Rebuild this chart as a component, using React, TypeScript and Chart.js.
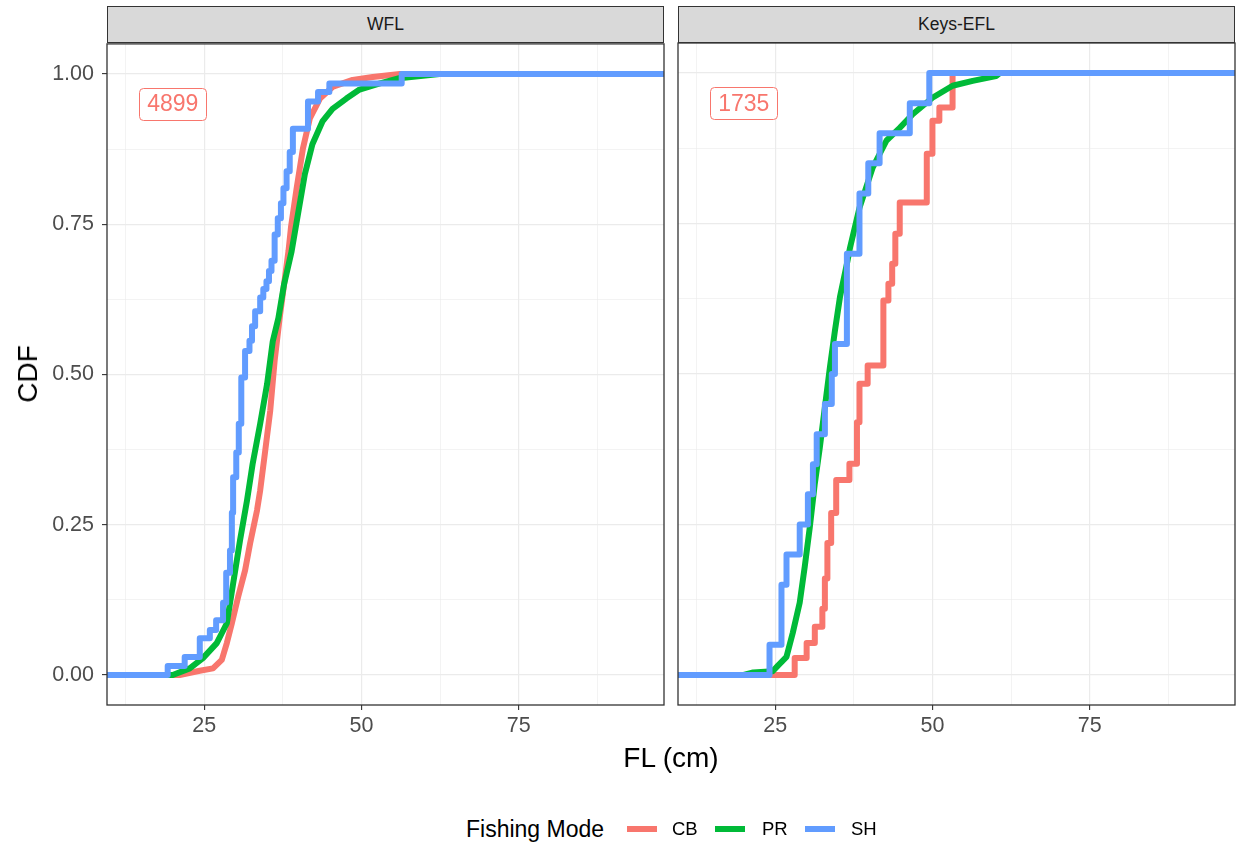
import React, { useEffect, useRef } from "react";
import { Chart, registerables } from "chart.js";
Chart.register(...registerables);

const FONT = '"Liberation Sans", Arial, Helvetica, sans-serif';

const panelNames = ["WFL", "Keys-EFL"];
const panelCounts = ["4899", "1735"];
const modeNames = ["CB", "PR", "SH"];
const modeColors = ["#F8766D", "#00BA38", "#619CFF"];

const X_MIN = 9.55;
const X_MAX = 98.1;
const Y_MIN = -0.05;
const Y_MAX = 1.05;
const xMajorTicks = [25, 50, 75];
const xMinorTicks = [12.5, 37.5, 62.5, 87.5];
const yMajorTicks = [0, 0.25, 0.5, 0.75, 1];
const yMinorTicks = [0.125, 0.375, 0.625, 0.875];
const yTickLabels = ["0.00", "0.25", "0.50", "0.75", "1.00"];
const countLabelFL = 20;
const countLabelCDF = 0.95;

// WFL panel
const wflCbFL = [21.1, 24.3, 26.4, 27.8, 28.6, 29.4, 30.4, 31.5, 32.3, 33.4, 33.9, 34.7, 35.5, 36.2, 37.0, 37.7, 38.4, 38.8, 39.7, 40.7, 41.8, 43.4, 45.5, 48.6, 51.8, 56.1];
const wflCbCDF = [0, 0.007, 0.011, 0.025, 0.053, 0.086, 0.13, 0.174, 0.219, 0.274, 0.307, 0.373, 0.44, 0.523, 0.594, 0.65, 0.705, 0.745, 0.81, 0.876, 0.926, 0.959, 0.979, 0.99, 0.995, 1.0];
const wflPrFL = [20.0, 22.7, 24.8, 27.0, 28.6, 29.6, 30.7, 31.8, 32.7, 33.9, 35.0, 35.9, 36.8, 37.7, 38.9, 39.9, 41.0, 42.2, 43.8, 45.4, 47.6, 49.7, 52.8, 56.0, 62.4];
const wflPrCDF = [0, 0.011, 0.028, 0.053, 0.086, 0.152, 0.224, 0.29, 0.351, 0.418, 0.484, 0.555, 0.594, 0.65, 0.705, 0.766, 0.833, 0.883, 0.921, 0.942, 0.959, 0.974, 0.984, 0.993, 1.0];
const wflShFL = [19.2, 21.9, 24.3, 25.9, 26.9, 28.0, 28.5, 29.1, 29.4, 29.6, 30.1, 30.5, 30.9, 31.5, 32.2, 32.6, 33.1, 33.9, 34.4, 34.9, 35.3, 35.7, 36.2, 36.7, 37.2, 37.6, 38.1, 38.6, 39.1, 41.5, 43.1, 44.9, 56.4];
const wflShCDF = [0.015, 0.03, 0.061, 0.075, 0.091, 0.12, 0.17, 0.207, 0.27, 0.329, 0.37, 0.418, 0.495, 0.539, 0.556, 0.58, 0.605, 0.628, 0.642, 0.655, 0.672, 0.689, 0.733, 0.76, 0.785, 0.81, 0.838, 0.87, 0.909, 0.954, 0.97, 0.984, 1.0];

// Keys-EFL panel
const keysCbFL = [28.1, 30.0, 31.3, 32.5, 32.9, 33.3, 33.9, 34.7, 36.8, 38.0, 38.4, 39.7, 42.2, 43.0, 43.6, 44.1, 44.8, 49.1, 50.0, 51.1, 53.2];
const keysCbCDF = [0.028, 0.053, 0.08, 0.11, 0.16, 0.219, 0.269, 0.324, 0.351, 0.42, 0.484, 0.514, 0.622, 0.65, 0.683, 0.733, 0.785, 0.866, 0.921, 0.943, 1.0];
const keysPrFL = [20.0, 21.5, 24.6, 25.4, 26.8, 27.8, 28.9, 29.7, 30.5, 31.3, 32.1, 32.9, 33.7, 34.5, 35.3, 36.4, 36.9, 38.4, 40.5, 42.7, 44.8, 46.9, 50.0, 53.2, 56.4, 60.1, 60.7];
const keysPrCDF = [0, 0.004, 0.006, 0.015, 0.03, 0.07, 0.12, 0.18, 0.245, 0.318, 0.378, 0.445, 0.511, 0.572, 0.628, 0.683, 0.71, 0.776, 0.843, 0.888, 0.909, 0.932, 0.959, 0.979, 0.987, 0.995, 1.0];
const keysShFL = [24.1, 26.0, 26.8, 28.9, 30.2, 31.0, 31.6, 32.9, 34.0, 34.5, 36.4, 38.4, 39.8, 41.6, 46.4, 49.5];
const keysShCDF = [0.05, 0.15, 0.2, 0.25, 0.3, 0.35, 0.4, 0.45, 0.5, 0.55, 0.7, 0.8, 0.85, 0.9, 0.95, 1.0];

const panelFL = [
  [wflCbFL, wflPrFL, wflShFL],
  [keysCbFL, keysPrFL, keysShFL],
];
const panelCDF = [
  [wflCbCDF, wflPrCDF, wflShCDF],
  [keysCbCDF, keysPrCDF, keysShCDF],
];
const panelStepped = [
  [false, false, true],
  [true, false, true],
];

function series(fl: number[], cdf: number[]) {
  return [
    { x: X_MIN, y: 0 },
    ...fl.map((v, i) => ({ x: v, y: cdf[i] })),
    { x: X_MAX, y: 1 },
  ];
}

const near = (a: number, arr: number[]) => arr.some((v) => Math.abs(v - a) < 1e-6);

const decoPlugin = {
  id: "panelDeco",
  afterDatasetsDraw(chart: any, _args: any, opts: any) {
    const { ctx, chartArea: a, scales } = chart;
    const cx = scales.x.getPixelForValue(countLabelFL);
    const cy = scales.y.getPixelForValue(countLabelCDF);
    ctx.save();
    ctx.font = `23px ${FONT}`;
    const tw = ctx.measureText(opts.text).width;
    const w = Math.round(tw + 16);
    const h = 32;
    const bx = Math.round(cx - w / 2) + 0.5;
    const by = Math.round(cy - h / 2) + 0.5;
    ctx.beginPath();
    ctx.roundRect(bx, by, w, h, 4);
    ctx.fillStyle = "#ffffff";
    ctx.fill();
    ctx.strokeStyle = "#F8766D";
    ctx.lineWidth = 1;
    ctx.stroke();
    ctx.fillStyle = "#F8766D";
    ctx.textAlign = "center";
    ctx.textBaseline = "middle";
    ctx.fillText(opts.text, cx, cy + 1);
    ctx.strokeStyle = "#333333";
    ctx.lineWidth = 1.3;
    ctx.strokeRect(a.left, a.top, a.right - a.left, a.bottom - a.top);
    ctx.restore();
  },
};

function makeChart(canvas: HTMLCanvasElement, p: number, yAxisWidth: number, padRight: number) {
  const datasets = modeNames.map((m, i) => ({
    label: m,
    data: series(panelFL[p][i], panelCDF[p][i]),
    borderColor: modeColors[i],
    backgroundColor: modeColors[i],
    borderWidth: 6,
    stepped: panelStepped[p][i] ? ("before" as const) : false,
    tension: 0,
    pointRadius: 0,
    fill: false,
    order: 2 - i,
    borderJoinStyle: "round" as const,
    borderCapStyle: "butt" as const,
  }));
  const showY = p === 0;
  return new Chart(canvas, {
    type: "line",
    data: { datasets },
    plugins: [decoPlugin],
    options: {
      animation: false,
      responsive: false,
      maintainAspectRatio: false,
      layout: { padding: { top: 20, right: padRight, left: 0, bottom: 0 } },
      plugins: {
        legend: { display: false },
        tooltip: { enabled: false },
        panelDeco: { text: panelCounts[p] },
      } as any,
      scales: {
        x: {
          type: "linear",
          min: X_MIN,
          max: X_MAX,
          afterBuildTicks: (s: any) => {
            s.ticks = [...xMinorTicks, ...xMajorTicks].sort((a, b) => a - b).map((v) => ({ value: v }));
          },
          afterFit: (s: any) => {
            s.height = 45;
          },
          border: { display: false },
          grid: {
            color: "#EBEBEB",
            lineWidth: (c: any) => (c.tick && near(c.tick.value, xMajorTicks) ? 1.2 : 0.6),
            tickColor: (c: any) => (c.tick && near(c.tick.value, xMajorTicks) ? "#333333" : "rgba(0,0,0,0)"),
            tickWidth: 1.1,
            tickLength: 5,
            drawTicks: true,
          },
          ticks: {
            autoSkip: false,
            maxRotation: 0,
            padding: 3,
            color: "#4D4D4D",
            font: { family: FONT, size: 21.5 },
            callback: (v: any) => (near(Number(v), xMajorTicks) ? String(v) : ""),
          },
        },
        y: {
          type: "linear",
          min: Y_MIN,
          max: Y_MAX,
          afterBuildTicks: (s: any) => {
            s.ticks = [...yMinorTicks, ...yMajorTicks].sort((a, b) => a - b).map((v) => ({ value: v }));
          },
          afterFit: (s: any) => {
            s.width = yAxisWidth;
          },
          border: { display: false },
          grid: {
            color: "#EBEBEB",
            lineWidth: (c: any) => (c.tick && near(c.tick.value, yMajorTicks) ? 1.2 : 0.6),
            tickColor: (c: any) =>
              showY && c.tick && near(c.tick.value, yMajorTicks) ? "#333333" : "rgba(0,0,0,0)",
            tickWidth: 1.1,
            tickLength: 5,
            drawTicks: showY,
          },
          ticks: {
            display: showY,
            autoSkip: false,
            padding: 8,
            color: "#4D4D4D",
            font: { family: FONT, size: 21.5 },
            callback: (v: any) => {
              const k = yMajorTicks.findIndex((t) => Math.abs(t - Number(v)) < 1e-6);
              return k >= 0 ? yTickLabels[k] : "";
            },
          },
        },
      },
    } as any,
  });
}

export default function App() {
  const c1 = useRef<HTMLCanvasElement>(null);
  const c2 = useRef<HTMLCanvasElement>(null);

  useEffect(() => {
    const ch1 = makeChart(c1.current!, 0, 107, 5);
    const ch2 = makeChart(c2.current!, 1, 18, 4);
    return () => {
      ch1.destroy();
      ch2.destroy();
    };
  }, []);

  const strip = (left: number, text: string) => (
    <div
      style={{
        position: "absolute",
        left,
        top: 6,
        width: 557,
        height: 37,
        boxSizing: "border-box",
        background: "#D9D9D9",
        border: "1.3px solid #333333",
        display: "flex",
        alignItems: "center",
        justifyContent: "center",
        fontSize: 17.5,
        color: "#1A1A1A",
      }}
    >
      {text}
    </div>
  );

  const legendKey = (left: number, color: string) => (
    <div style={{ position: "absolute", left, top: 826, width: 30, height: 6, background: color }} />
  );
  const legendText = (left: number, text: string, size: number) => (
    <div
      style={{
        position: "absolute",
        left,
        top: 829,
        transform: "translateY(-50%)",
        fontSize: size,
        lineHeight: 1,
        whiteSpace: "nowrap",
        color: "#000",
      }}
    >
      {text}
    </div>
  );

  return (
    <div
      style={{
        position: "fixed",
        left: 0,
        top: 0,
        width: 1239,
        height: 843,
        background: "#ffffff",
        fontFamily: FONT,
        overflow: "hidden",
      }}
    >
      <canvas
        ref={c1}
        width={669}
        height={727}
        style={{ position: "absolute", left: 0, top: 23, width: 669, height: 727 }}
      />
      <canvas
        ref={c2}
        width={579}
        height={727}
        style={{ position: "absolute", left: 660, top: 23, width: 579, height: 727 }}
      />
      {strip(107, panelNames[0])}
      {strip(678, panelNames[1])}
      <div
        style={{
          position: "absolute",
          left: 28,
          top: 374,
          transform: "translate(-50%,-50%) rotate(-90deg)",
          fontSize: 28,
          lineHeight: 1,
          whiteSpace: "nowrap",
          color: "#000",
        }}
      >
        CDF
      </div>
      <div
        style={{
          position: "absolute",
          left: 671,
          top: 758,
          transform: "translate(-50%,-50%)",
          fontSize: 28,
          lineHeight: 1,
          whiteSpace: "nowrap",
          color: "#000",
        }}
      >
        FL (cm)
      </div>
      {legendText(466, "Fishing Mode", 23)}
      {legendKey(627, modeColors[0])}
      {legendText(672, modeNames[0], 18.5)}
      {legendKey(715, modeColors[1])}
      {legendText(762, modeNames[1], 18.5)}
      {legendKey(805, modeColors[2])}
      {legendText(851, modeNames[2], 18.5)}
    </div>
  );
}
